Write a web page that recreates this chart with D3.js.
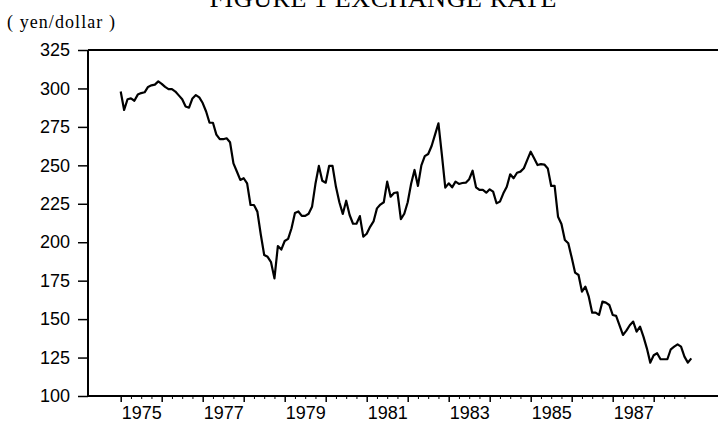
<!DOCTYPE html>
<html>
<head>
<meta charset="utf-8">
<script src="https://cdn.jsdelivr.net/npm/d3@7"></script>
<style>
  body { margin: 0; background: #fff; }
  svg { display: block; }
</style>
</head>
<body>
<div id="chart"></div>
<script>
// monthly yen/dollar rate, Jan 1975 .. Dec 1988
var startYear = 1975;
var rate = [
  298, 286, 293, 293.5, 292, 296, 297, 297.5, 301, 302, 302.5, 304.6,          // 1975
  303, 301, 299.6, 299.6, 298, 295.5, 293, 288.3, 287.5, 293.5, 295.7, 294.2,  // 1976
  290.5, 285, 277.7, 277.7, 270, 267, 267, 267.6, 265, 251.3, 246, 240.5,      // 1977
  241.6, 238.3, 224.2, 224.2, 219.9, 205, 191.7, 190.5, 187, 176.5, 197.5, 195.2, // 1978
  200.8, 202.2, 209.1, 219, 220, 217.1, 217.1, 218.5, 223, 238, 249.6, 240,    // 1979
  238.7, 249.6, 249.6, 236, 226, 218.4, 227, 217.7, 212, 212, 217, 203.6,      // 1980
  205.5, 210, 213.5, 222, 224.5, 226, 239.4, 229.6, 232, 232.5, 215, 218.5,    // 1981
  226, 238, 247, 236.6, 250, 256, 257.4, 262.6, 270, 277.3, 257, 235.5,        // 1982
  238.3, 235.7, 239.4, 237.9, 238.5, 238.7, 241, 246.5, 235.7, 234, 234, 232.2, // 1983
  234.4, 232.9, 225.3, 226.4, 231.8, 236.1, 244.2, 241.6, 245.2, 245.9, 248.1, 253.5, // 1984
  258.9, 254.6, 250.2, 250.8, 250.5, 248, 236.6, 236.6, 216.6, 211.9, 201.5, 199.3, // 1985
  190, 180.2, 178.7, 167.9, 171.1, 164.6, 154.2, 154.2, 152.7, 161.4, 160.7, 159.2, // 1986
  152.7, 152.1, 146, 139.7, 142.5, 146, 148.4, 141.8, 145.1, 138.6, 131, 121.7, // 1987
  126.5, 127.8, 123.9, 123.9, 123.9, 130.4, 132.1, 133.6, 132.1, 125.6, 121.7, 124.5  // 1988
];
var yTicks = [100, 125, 150, 175, 200, 225, 250, 275, 300, 325];
var yearTicks = d3.range(1975, 1989);
var yearLabels = ["1975", "1977", "1979", "1981", "1983", "1985", "1987"];

var W = 718, H = 427;
var plotLeft = 88, plotTop = 50, plotBottom = 396, plotRight = 718;

var svg = d3.select("#chart").append("svg")
    .attr("width", W)
    .attr("height", H);

var x = d3.scaleLinear().domain([1975, 1989]).range([120.7, 694.7]);
var y = d3.scaleLinear().domain([100, 325]).range([plotBottom, plotTop]);

// titles (top of the figure title is cut off in the scan)
svg.append("text")
    .attr("x", 383).attr("y", 7)
    .attr("text-anchor", "middle")
    .attr("textLength", 347)
    .style("font-family", "'Liberation Serif', 'Times New Roman', serif")
    .style("font-size", "26px")
    .text("FIGURE 1  EXCHANGE RATE");

svg.append("text")
    .attr("x", 7).attr("y", 28)
    .attr("textLength", 108)
    .style("font-family", "'Liberation Serif', 'Times New Roman', serif")
    .style("font-size", "18px")
    .text("( yen/dollar )");

// frame lines
svg.append("line")
    .attr("x1", plotLeft).attr("x2", plotRight).attr("y1", plotTop).attr("y2", plotTop)
    .attr("stroke", "#000").attr("stroke-width", 2);
svg.append("line")
    .attr("x1", plotLeft).attr("x2", plotLeft).attr("y1", plotTop).attr("y2", plotBottom)
    .attr("stroke", "#000").attr("stroke-width", 2);
svg.append("line")
    .attr("x1", plotLeft).attr("x2", plotRight).attr("y1", plotBottom).attr("y2", plotBottom)
    .attr("stroke", "#000").attr("stroke-width", 2);

// y axis
var yAxis = svg.append("g")
    .attr("transform", "translate(" + plotLeft + ",0)")
    .call(d3.axisLeft(y).tickValues(yTicks).tickSize(10).tickPadding(8));
yAxis.select(".domain").remove();
yAxis.selectAll("line").attr("stroke-width", 1.5);
yAxis.selectAll("text")
    .style("font-family", "'Liberation Sans', Arial, sans-serif")
    .style("font-size", "18px")
    .attr("fill", "#000");

// x axis: year ticks, quarter ticks, labels mid-year
var quarters = d3.range(1975, 1988.8, 0.25).filter(function(d) { return d % 1 !== 0; });
var xMinor = svg.append("g")
    .attr("transform", "translate(0," + plotBottom + ")")
    .call(d3.axisBottom(x).tickValues(quarters).tickSize(3).tickFormat(""));
xMinor.select(".domain").remove();

var xMajor = svg.append("g")
    .attr("transform", "translate(0," + plotBottom + ")")
    .call(d3.axisBottom(x).tickValues(yearTicks).tickSize(6).tickFormat(""));
xMajor.select(".domain").remove();
xMajor.selectAll("line").attr("stroke-width", 1.5);

var xLab = svg.append("g")
    .attr("transform", "translate(0," + plotBottom + ")")
    .call(d3.axisBottom(x)
      .tickValues(yearLabels.map(function(d) { return +d + 0.5; }))
      .tickSize(0).tickPadding(10)
      .tickFormat(function(d) { return String(Math.floor(d)); }));
xLab.select(".domain").remove();
xLab.selectAll("text")
    .style("font-family", "'Liberation Sans', Arial, sans-serif")
    .style("font-size", "18px")
    .attr("fill", "#000");

// the series
var line = d3.line()
    .x(function(d, i) { return x(startYear + i / 12); })
    .y(function(d) { return y(d); });

svg.append("path")
    .datum(rate)
    .attr("fill", "none")
    .attr("stroke", "#000")
    .attr("stroke-width", 2.2)
    .attr("stroke-linejoin", "round")
    .attr("d", line);
</script>
</body>
</html>
